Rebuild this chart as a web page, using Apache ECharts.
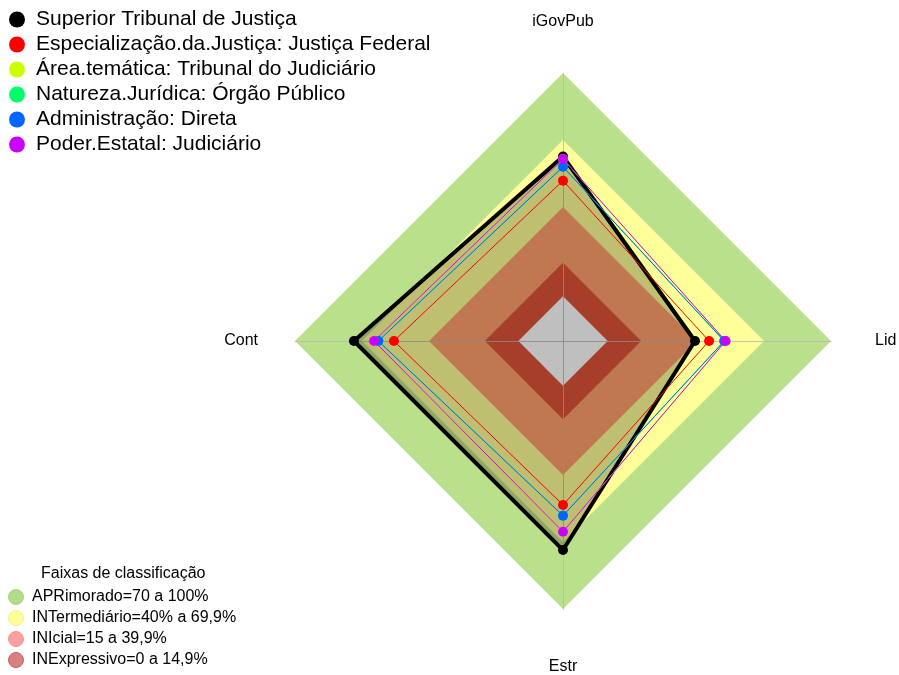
<!DOCTYPE html>
<html>
<head>
<meta charset="utf-8">
<script src="https://cdn.jsdelivr.net/npm/echarts@6/dist/echarts.min.js"></script>
<style>
html,body{margin:0;padding:0;background:#fff;}
#chart{width:899px;height:675px;}
</style>
</head>
<body>
<div id="chart"></div>
<script>
// Indicators in drawing order (counter-clockwise from top)
var indicatorNames = ['iGovPub', 'Cont', 'Estr', 'Lid'];
var axisMin = -20;
var axisMax = 100;

// Series (values in %, same order as indicatorNames)
var seriesNames = [
  'Superior Tribunal de Justiça',
  'Especialização.da.Justiça: Justiça Federal',
  'Área.temática: Tribunal do Judiciário',
  'Natureza.Jurídica: Órgão Público',
  'Administração: Direta',
  'Poder.Estatal: Judiciário'
];
var stjValues      = [62.6, 73.6, 73.6, 39.1];
var federalValues  = [51.8, 55.7, 53.4, 45.4];
var tematicaValues = [61.5, 64.6, 65.4, 52.8];
var naturezaValues = [58.0, 62.7, 58.2, 52.2];
var adminValues    = [58.0, 62.7, 58.2, 52.2];
var poderValues    = [61.5, 64.6, 65.4, 52.8];
var seriesColors = ['#000000', '#ff0000', '#ccff00', '#00ff66', '#0066ff', '#cc00ff'];

// Classification bands (upper limit of each band)
var bandNames = ['APRimorado=70 a 100%', 'INTermediário=40% a 69,9%', 'INIcial=15 a 39,9%', 'INExpressivo=0 a 14,9%'];
var bandLimits = [100, 70, 40, 15];
var bandFill = ['#bae08c', '#ffff99', '#ffa16b', '#df5338'];
var bandLegendColors = ['#b3dc88', '#ffff99', '#ffa0a0', '#d98080'];
var bandLegendBorders = ['#a8d27c', '#f0f08a', '#f49090', '#c06060'];
var centerLimit = 0;

var font = 'Liberation Sans, Arial, sans-serif';

function fill(v) { return indicatorNames.map(function () { return v; }); }

var series = [];
bandNames.forEach(function (nm, i) {
  series.push({
    type: 'radar', z: 1, silent: true, symbol: 'none',
    itemStyle: { color: bandLegendColors[i] },
    lineStyle: { width: 0 },
    areaStyle: { color: bandFill[i], opacity: 1 },
    data: [{ name: nm, value: fill(bandLimits[i]) }]
  });
});
series.push({
  type: 'radar', z: 1, silent: true, symbol: 'none',
  itemStyle: { color: '#ffffff' },
  lineStyle: { width: 0 },
  areaStyle: { color: '#ffffff', opacity: 1 },
  data: [{ name: 'centro', value: fill(centerLimit) }]
});

var valueLists = [stjValues, federalValues, tematicaValues, naturezaValues, adminValues, poderValues];
valueLists.forEach(function (vals, i) {
  var s = {
    type: 'radar', z: 3, symbol: 'circle', symbolSize: 10,
    itemStyle: { color: seriesColors[i] },
    lineStyle: { color: seriesColors[i], width: i === 0 ? 4 : 1 },
    data: [{ name: seriesNames[i], value: vals }]
  };
  if (i === 0) s.areaStyle = { color: 'rgba(0,0,0,0.25)', opacity: 1 };
  series.push(s);
});

var namePads = { iGovPub: [0, 0, 6, 0], Cont: [0, 0, 0, 0], Estr: [13, 0, 0, 0], Lid: [0, 0, 0, 7] };
var rich = {};
indicatorNames.forEach(function (n) {
  rich[n] = { color: '#000', fontSize: 16, fontFamily: font, padding: namePads[n] };
});

var chart = echarts.init(document.getElementById('chart'), null, { renderer: 'canvas' });
chart.setOption({
  animation: false,
  backgroundColor: '#ffffff',
  textStyle: { fontFamily: font },
  title: {
    text: 'Faixas de classificação',
    left: 36, top: 561,
    textStyle: { fontSize: 16, fontWeight: 'normal', color: '#000', fontFamily: font }
  },
  legend: [
    {
      orient: 'vertical', left: 4, top: 4,
      icon: 'circle', itemWidth: 28, itemHeight: 16, itemGap: 4,
      textStyle: { fontSize: 21, color: '#000', fontFamily: font },
      data: seriesNames
    },
    {
      orient: 'vertical', left: 3, bottom: 2,
      icon: 'circle', itemWidth: 22, itemHeight: 15, itemGap: 5,
      textStyle: { fontSize: 16, color: '#000', fontFamily: font },
      data: bandNames.map(function (nm, i) {
        return { name: nm, itemStyle: { color: bandLegendColors[i], borderColor: bandLegendBorders[i], borderWidth: 1 } };
      })
    }
  ],
  radar: {
    z: 2,
    center: [563, 341],
    radius: 268,
    startAngle: 90,
    shape: 'polygon',
    splitNumber: 6,
    nameGap: 37,
    axisName: {
      color: '#000', fontSize: 16, fontFamily: font,
      formatter: function (name) { return '{' + name + '|' + name + '}'; },
      rich: rich
    },
    axisLine: { show: true, lineStyle: { color: 'rgba(185,185,185,0.85)', width: 1 } },
    splitLine: { show: false },
    splitArea: { show: false },
    axisTick: { show: false },
    axisLabel: { show: false },
    indicator: indicatorNames.map(function (n) { return { name: n, min: axisMin, max: axisMax }; })
  },
  series: series
});
</script>
</body>
</html>
